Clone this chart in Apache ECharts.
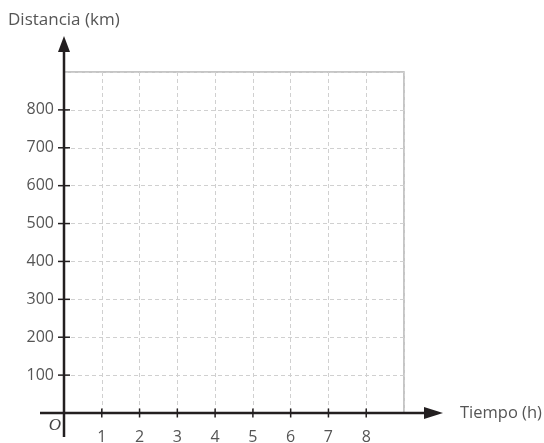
<!DOCTYPE html>
<html><head><meta charset="utf-8">
<script src="https://cdn.jsdelivr.net/npm/echarts@6/dist/echarts.min.js"></script>
<style>html,body{margin:0;padding:0;background:#fff}#c{width:544px;height:443px}</style>
</head><body><div id="c"></div>
<script>
var xTicks = [1, 2, 3, 4, 5, 6, 7, 8];
var yTicks = [100, 200, 300, 400, 500, 600, 700, 800];
var xMax = 9;
var yMax = 900;
var xTitle = 'Tiempo (h)';
var yTitle = 'Distancia (km)';

var chart = echarts.init(document.getElementById('c'), null, {renderer: 'canvas'});
var FONT = '"Open Sans", "Noto Sans", sans-serif';
var opt = {
  animation: false,
  textStyle: {fontFamily: FONT},
  grid: {left: 64, right: 140, top: 72, bottom: 30, containLabel: false, outerBoundsMode: 'none',
    show: true, borderColor: '#b3b3b3', borderWidth: 1.5, backgroundColor: 'transparent'},
  xAxis: {
    type: 'value', min: 0, max: xMax, interval: 1,
    axisLine: {show: false}, axisTick: {show: false},
    axisLabel: {fontSize: 16, color: '#555', fontFamily: FONT, margin: 16,
      formatter: function (v) { return xTicks.indexOf(v) >= 0 ? String(v) : ''; }},
    splitLine: {show: true, lineStyle: {type: [4, 3], color: '#d0d0d0', width: 1}}
  },
  yAxis: {
    type: 'value', min: 0, max: yMax, interval: 100,
    axisLine: {show: false}, axisTick: {show: false},
    axisLabel: {fontSize: 16, color: '#555', fontFamily: FONT, margin: 10,
      formatter: function (v) { return yTicks.indexOf(v) >= 0 ? String(v) : ''; }},
    splitLine: {show: true, lineStyle: {type: [4, 3], color: '#d0d0d0', width: 1}}
  },
  series: [{type: 'scatter', data: []}]
};
chart.setOption(opt);

var o = chart.convertToPixel({gridIndex: 0}, [0, 0]);
var ox = o[0], oy = o[1];
var gTop = chart.convertToPixel({gridIndex: 0}, [0, yMax])[1];
var gRight = chart.convertToPixel({gridIndex: 0}, [xMax, 0])[0];
var AX = '#231f20';
var g = [];
// x axis line and arrow
g.push({type: 'line', shape: {x1: ox - 24, y1: oy, x2: gRight + 24, y2: oy}, style: {stroke: AX, lineWidth: 2.5}, z: 10});
g.push({type: 'polygon', shape: {points: [[gRight + 20, oy - 6], [gRight + 39, oy], [gRight + 20, oy + 6]]}, style: {fill: AX}, z: 10});
// y axis line and arrow
g.push({type: 'line', shape: {x1: ox, y1: oy + 24, x2: ox, y2: gTop - 22}, style: {stroke: AX, lineWidth: 2.5}, z: 10});
g.push({type: 'polygon', shape: {points: [[ox - 6, gTop - 20], [ox, gTop - 36], [ox + 6, gTop - 20]]}, style: {fill: AX}, z: 10});
// ticks
xTicks.forEach(function (v) {
  var p = chart.convertToPixel({gridIndex: 0}, [v, 0]);
  g.push({type: 'line', shape: {x1: p[0], y1: oy - 4.5, x2: p[0], y2: oy + 4.5}, style: {stroke: AX, lineWidth: 1.5}, z: 10});
});
yTicks.forEach(function (v) {
  var p = chart.convertToPixel({gridIndex: 0}, [0, v]);
  g.push({type: 'line', shape: {x1: ox - 6, y1: p[1], x2: ox + 6, y2: p[1]}, style: {stroke: AX, lineWidth: 1.5}, z: 10});
});
// titles
g.push({type: 'text', x: gRight + 56, y: oy, style: {text: xTitle, font: '16.5px ' + FONT, fill: '#555', verticalAlign: 'middle', align: 'left'}, z: 10});
g.push({type: 'text', x: 8, y: 20, style: {text: yTitle, font: '17px ' + FONT, fill: '#555', verticalAlign: 'middle', align: 'left'}, z: 10});
g.push({type: 'text', x: ox - 9, y: oy + 13, style: {text: 'O', font: 'italic 17px "Liberation Serif", serif', fill: '#444', verticalAlign: 'middle', align: 'center'}, z: 10});
chart.setOption({graphic: g});
</script>
</body></html>
